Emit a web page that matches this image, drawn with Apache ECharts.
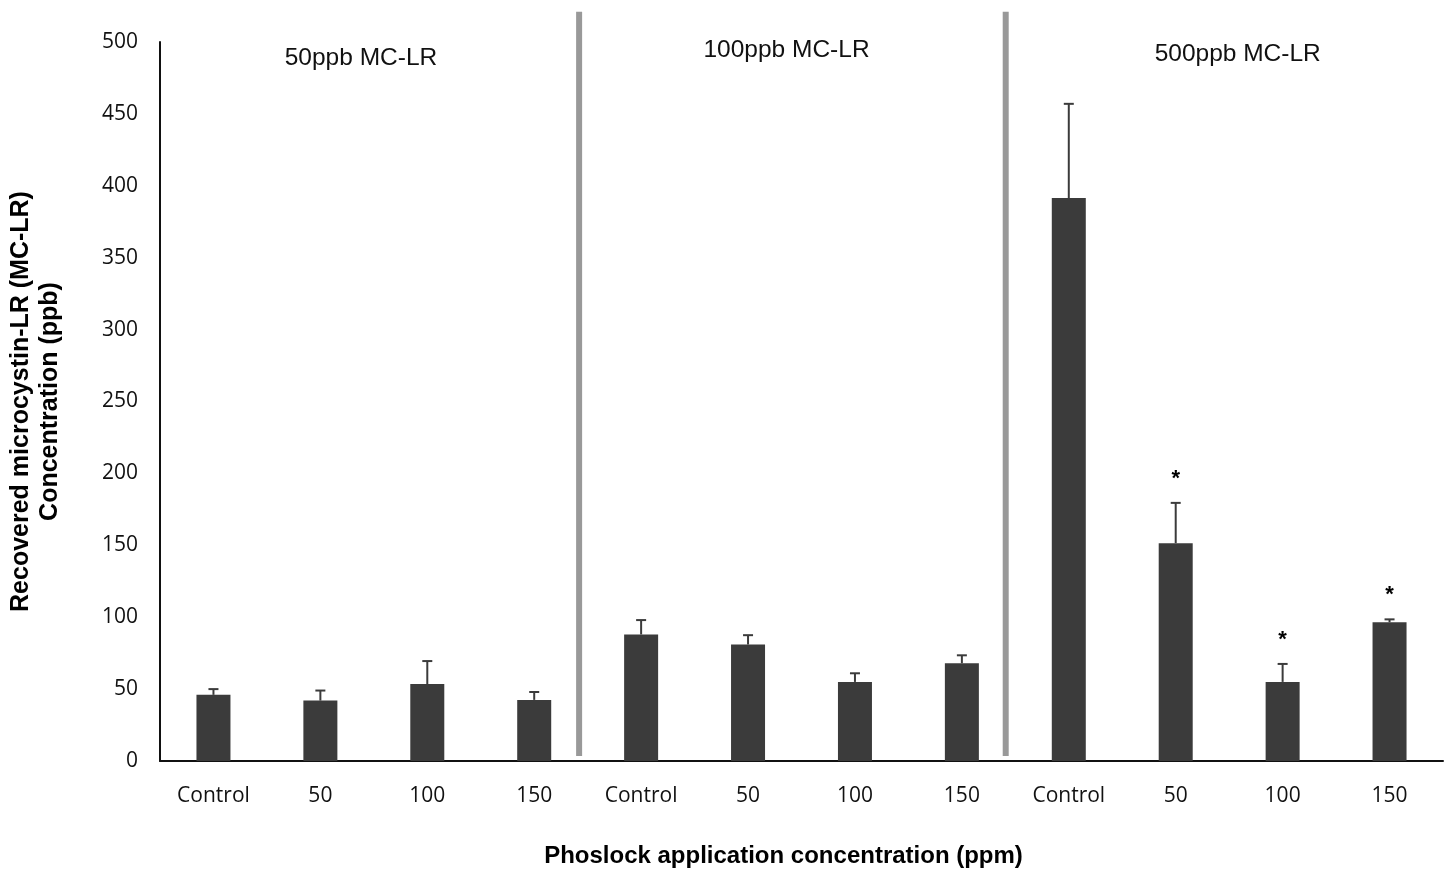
<!DOCTYPE html>
<html><head><meta charset="utf-8">
<script src="https://cdn.jsdelivr.net/npm/echarts@6/dist/echarts.min.js"></script>
<style>html,body{margin:0;padding:0;background:#fff}#c{width:1450px;height:869px}</style>
</head><body><div id="c"></div>
<script>
const categories = ['Control','50','100','150','Control','50','100','150','Control','50','100','150'];
const means = [46, 42, 53.5, 42.5, 88, 81, 55, 68, 391.5, 151.5, 55, 96.5];
const errors = [4, 7, 16, 5.5, 10, 6.5, 6, 5.5, 65.5, 28, 12.5, 2];
const significance = ['', '', '', '', '', '', '', '', '', '*', '*', '*'];
const groupLabels = ['50ppb MC-LR', '100ppb MC-LR', '500ppb MC-LR'];
const yTicks = [0, 50, 100, 150, 200, 250, 300, 350, 400, 450, 500];

const barColor = '#3b3b3b';
const chart = echarts.init(document.getElementById('c'), null, {renderer: 'canvas'});

const errData = means.map((m, i) => [i, m, m + errors[i], significance[i]]);
const groupPos = [[1.88, 489], [5.86, 494.5], [10.08, 491.7]];
const sepPos = [[3.92, 521, 3.5], [7.91, 521, 3.5]];

chart.setOption({
  animation: false,
  backgroundColor: '#fff',
  grid: {left: 160, top: 42, right: 7, bottom: 108, containLabel: false, outerBoundsMode: 'none'},
  xAxis: [{
    type: 'category', data: categories,
    axisLine: {lineStyle: {color: '#111', width: 2}},
    axisTick: {show: false},
    axisLabel: {color: '#111', fontFamily: 'Open Sans', fontSize: 21, margin: 25, interval: 0},
    name: 'Phoslock application concentration (ppm)',
    nameLocation: 'middle', nameGap: 83,
    nameTextStyle: {color: '#000', fontFamily: 'Liberation Sans', fontWeight: 'bold', fontSize: 24, padding: [0, 36, 0, 0]}
  }, {
    type: 'value', min: 0, max: 12, show: false
  }],
  yAxis: {
    type: 'value', min: 0, max: 500, interval: 50,
    axisLine: {show: true, lineStyle: {color: '#111', width: 2}},
    axisTick: {show: false},
    splitLine: {show: false},
    axisLabel: {color: '#111', fontFamily: 'Open Sans', fontSize: 21, margin: 22,
      formatter: v => yTicks.includes(v) ? String(v) : ''},
    name: 'Recovered microcystin-LR (MC-LR)\nConcentration (ppb)',
    nameLocation: 'middle', nameGap: 95, nameRotate: 90,
    nameTextStyle: {color: '#000', fontFamily: 'Liberation Sans', fontWeight: 'bold', fontSize: 25, lineHeight: 29, align: 'center'}
  },
  series: [{
    type: 'bar', data: means, barWidth: 34,
    itemStyle: {color: barColor}
  }, {
    type: 'custom', data: errData, z: 3,
    renderItem: function (params, api) {
      const i = api.value(0);
      const base = api.coord([i, api.value(1)]);
      const top = api.coord([i, api.value(2)]);
      const star = errData[params.dataIndex][3];
      const children = [
        {type: 'line', shape: {x1: base[0], y1: base[1], x2: top[0], y2: top[1]}, style: {stroke: barColor, lineWidth: 2}},
        {type: 'line', shape: {x1: top[0] - 5, y1: top[1], x2: top[0] + 5, y2: top[1]}, style: {stroke: barColor, lineWidth: 2}}
      ];
      if (star) {
        children.push({type: 'text', x: top[0], y: top[1] - 24,
          style: {text: star, fill: '#000', fontFamily: 'Liberation Sans', fontSize: 22, fontWeight: 'bold', align: 'center', verticalAlign: 'middle'}});
      }
      return {type: 'group', children: children};
    }
  }, {
    type: 'custom', xAxisIndex: 1, data: sepPos, z: 1, clip: false,
    renderItem: function (params, api) {
      const a = api.coord([api.value(0), api.value(1)]);
      const b = api.coord([api.value(0), api.value(2)]);
      return {type: 'line', shape: {x1: a[0], y1: a[1], x2: b[0], y2: b[1]}, style: {stroke: '#999', lineWidth: 6}};
    }
  }, {
    type: 'custom', xAxisIndex: 1, data: groupPos.map((p, k) => [p[0], p[1], groupLabels[k]]), clip: false,
    renderItem: function (params, api) {
      const p = api.coord([api.value(0), api.value(1)]);
      return {type: 'text', x: p[0], y: p[1],
        style: {text: groupLabels[params.dataIndex], fill: '#111', fontFamily: 'Liberation Sans', fontSize: 24.5, align: 'center', verticalAlign: 'middle'}};
    }
  }]
});
</script>
</body></html>
